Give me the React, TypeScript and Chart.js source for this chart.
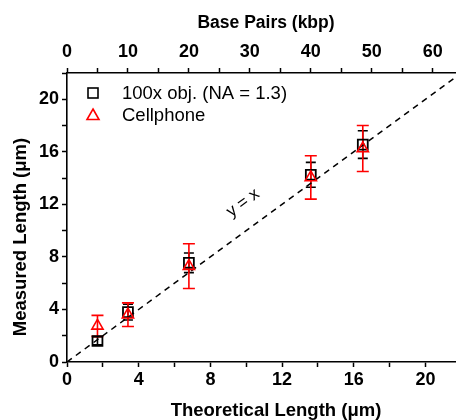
import React, { useEffect, useRef } from "react";
import { Chart, registerables } from "chart.js";

Chart.register(...registerables);

// ---- data ----
const theoreticalLength = [1.7, 3.4, 6.8, 13.6, 16.5];
const objMeasured = [1.6, 3.8, 7.55, 14.25, 16.55];
const objError = [0.3, 0.6, 0.75, 0.95, 1.05];
const phoneMeasured = [2.75, 3.6, 7.3, 14.05, 16.25];
const phoneError = [0.8, 0.9, 1.7, 1.65, 1.75];
const guideX = [0, 22];
const guideY = [0, 22];

const xTickLabels = [0, 4, 8, 12, 16, 20];
const yTickLabels = [0, 4, 8, 12, 16, 20];
const bpTickLabels = [0, 10, 20, 30, 40, 50, 60];
const umPerKbp = 0.34;
const xMax = 21.7;
const yMax = 22;

const xTitle = "Theoretical Length (μm)";
const yTitle = "Measured Length (μm)";
const x2Title = "Base Pairs (kbp)";
const legendLabels = ["100x obj. (NA = 1.3)", "Cellphone"];
const guideLabel = "y = x";
const guideLabelPos = { x: 9.82, y: 12.1 };

const FONT = "'Liberation Sans', Arial, sans-serif";
const RED = "#ff0000";
const BLACK = "#000000";

const errorBarsPlugin = {
  id: "errorBars",
  beforeDatasetsDraw(chart: any) {
    const { ctx } = chart;
    const xs = chart.scales.x;
    const ys = chart.scales.y;
    const drawBars = (vals: number[], errs: number[], color: string, cap: number) => {
      ctx.save();
      ctx.strokeStyle = color;
      ctx.lineWidth = 1.6;
      vals.forEach((v, i) => {
        const px = xs.getPixelForValue(theoreticalLength[i]);
        const top = ys.getPixelForValue(v + errs[i]);
        const bot = ys.getPixelForValue(v - errs[i]);
        ctx.beginPath();
        ctx.moveTo(px, top);
        ctx.lineTo(px, bot);
        ctx.moveTo(px - cap, top);
        ctx.lineTo(px + cap, top);
        ctx.moveTo(px - cap, bot);
        ctx.lineTo(px + cap, bot);
        ctx.stroke();
      });
      ctx.restore();
    };
    drawBars(objMeasured, objError, BLACK, 5);
    drawBars(phoneMeasured, phoneError, RED, 6);
  },
};

const annotPlugin = {
  id: "annot",
  afterDraw(chart: any) {
    const { ctx, chartArea } = chart;
    const xs = chart.scales.x;
    const ys = chart.scales.y;
    ctx.save();
    // axis titles
    ctx.fillStyle = BLACK;
    ctx.textAlign = "center";
    ctx.textBaseline = "middle";
    ctx.font = `bold 17.5px ${FONT}`;
    ctx.fillText(x2Title, chartArea.left + 199, chartArea.top - 50);
    ctx.font = `bold 18.5px ${FONT}`;
    ctx.fillText(xTitle, chartArea.left + 209, chartArea.bottom + 49);
    ctx.save();
    ctx.translate(21, chartArea.top + 164);
    ctx.rotate(-Math.PI / 2);
    ctx.fillText(yTitle, 0, 0);
    ctx.restore();
    // legend
    const lx = chartArea.left + 26;
    const ly1 = chartArea.top + 20;
    const ly2 = chartArea.top + 42;
    ctx.lineWidth = 1.6;
    ctx.strokeStyle = BLACK;
    ctx.strokeRect(lx - 5, ly1 - 5, 10, 10);
    ctx.strokeStyle = RED;
    ctx.beginPath();
    ctx.moveTo(lx, ly2 - 6);
    ctx.lineTo(lx + 6, ly2 + 4.5);
    ctx.lineTo(lx - 6, ly2 + 4.5);
    ctx.closePath();
    ctx.stroke();
    ctx.fillStyle = BLACK;
    ctx.font = `18.5px ${FONT}`;
    ctx.textAlign = "left";
    ctx.textBaseline = "middle";
    ctx.fillText(legendLabels[0], lx + 29, ly1 + 1);
    ctx.fillText(legendLabels[1], lx + 29, ly2 + 1);
    // y = x label
    const p0x = xs.getPixelForValue(0);
    const p0y = ys.getPixelForValue(0);
    const p1x = xs.getPixelForValue(10);
    const p1y = ys.getPixelForValue(10);
    const ang = Math.atan2(p1y - p0y, p1x - p0x);
    ctx.translate(xs.getPixelForValue(guideLabelPos.x), ys.getPixelForValue(guideLabelPos.y));
    ctx.rotate(ang);
    ctx.textAlign = "center";
    ctx.font = `17px ${FONT}`;
    ctx.fillText(guideLabel, 0, 0);
    ctx.restore();
  },
};

export default function App() {
  const ref = useRef<HTMLCanvasElement | null>(null);
  useEffect(() => {
    if (!ref.current) return;
    const tickFont = { family: FONT, size: 18, weight: "bold" as const };
    const grid = {
      drawOnChartArea: false,
      drawTicks: true,
      tickLength: 5,
      tickColor: BLACK,
      tickWidth: 1.5,
      color: BLACK,
    };
    const border = { display: true, color: BLACK, width: 1.6 };
    const zeroPad = (s: any) => {
      s.paddingLeft = 0;
      s.paddingRight = 0;
      s.paddingTop = 0;
      s.paddingBottom = 0;
    };
    const chart = new Chart(ref.current, {
      type: "scatter",
      data: {
        datasets: [
          {
            label: legendLabels[1],
            data: theoreticalLength.map((x, i) => ({ x, y: phoneMeasured[i] })),
            pointStyle: "triangle",
            pointRadius: 6.5,
            pointBorderColor: RED,
            pointBackgroundColor: "rgba(0,0,0,0)",
            pointBorderWidth: 1.6,
            showLine: false,
          },
          {
            label: legendLabels[0],
            data: theoreticalLength.map((x, i) => ({ x, y: objMeasured[i] })),
            pointStyle: "rect",
            pointRadius: 7,
            pointBorderColor: BLACK,
            pointBackgroundColor: "rgba(0,0,0,0)",
            pointBorderWidth: 1.8,
            showLine: false,
          },
          {
            label: guideLabel,
            data: guideX.map((x, i) => ({ x, y: guideY[i] })),
            showLine: true,
            borderColor: BLACK,
            borderWidth: 1.5,
            borderDash: [6, 5],
            pointRadius: 0,
            fill: false,
          } as any,
        ],
      },
      options: {
        responsive: false,
        devicePixelRatio: 1,
        animation: false,
        layout: { padding: 0, autoPadding: false },
        plugins: { legend: { display: false }, tooltip: { enabled: false } },
        scales: {
          x: {
            type: "linear",
            position: "bottom",
            min: 0,
            max: xMax,
            grid,
            border,
            ticks: {
              stepSize: 2,
              includeBounds: false,
              autoSkip: false,
              maxRotation: 0,
              padding: 2,
              color: BLACK,
              font: tickFont,
              callback: (v: any) => (xTickLabels.includes(v) ? String(v) : ""),
            },
            title: { display: false },
            afterFit: (s: any) => {
              s.height = 58;
              zeroPad(s);
            },
          },
          x2: {
            type: "linear",
            position: "top",
            min: 0,
            max: xMax / umPerKbp,
            grid,
            border,
            ticks: {
              stepSize: 5,
              includeBounds: false,
              autoSkip: false,
              maxRotation: 0,
              padding: 5,
              color: BLACK,
              font: tickFont,
              callback: (v: any) => (bpTickLabels.includes(v) ? String(v) : ""),
            },
            title: { display: false },
            afterFit: (s: any) => {
              s.height = 73;
              zeroPad(s);
            },
          },
          y: {
            type: "linear",
            position: "left",
            min: 0,
            max: yMax,
            grid,
            border,
            ticks: {
              stepSize: 2,
              includeBounds: false,
              autoSkip: false,
              padding: 3,
              color: BLACK,
              font: tickFont,
              callback: (v: any) => (yTickLabels.includes(v) ? String(v) : ""),
            },
            title: { display: false },
            afterFit: (s: any) => {
              s.width = 67;
              zeroPad(s);
            },
          },
        },
      } as any,
      plugins: [errorBarsPlugin, annotPlugin],
    });
    return () => chart.destroy();
  }, []);
  return (
    <div style={{ position: "absolute", left: 0, top: 0, width: 456, height: 420, background: "#fff" }}>
      <canvas ref={ref} width={456} height={420} style={{ display: "block" }} />
    </div>
  );
}
